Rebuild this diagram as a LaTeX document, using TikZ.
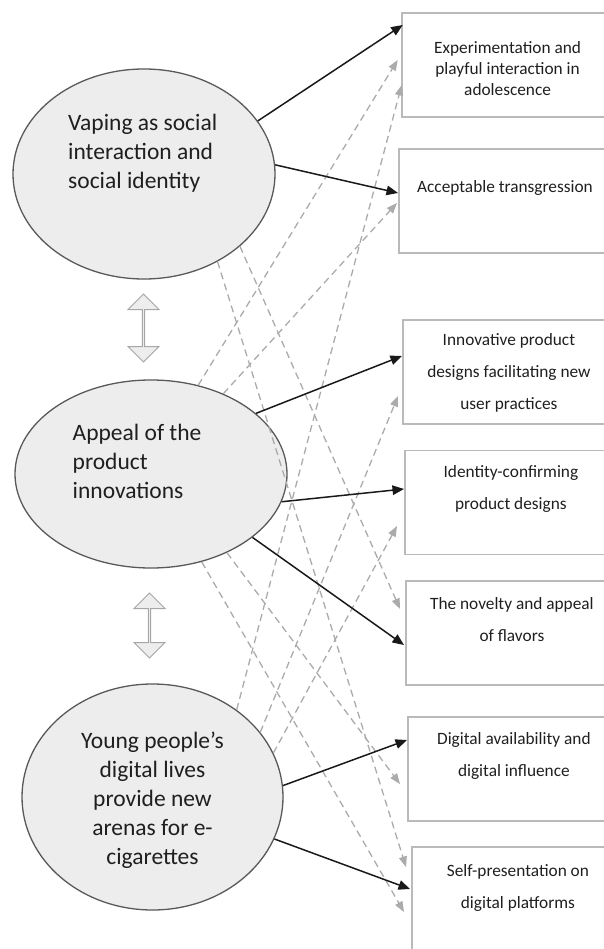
\documentclass[tikz,border=0pt]{standalone}
\usepackage{fontspec}
\setmainfont{Carlito}
\usetikzlibrary{positioning}
\usetikzlibrary{calc}
\usetikzlibrary{shapes.geometric,shapes.arrows}
\usetikzlibrary{arrows.meta}

\begin{document}
\begin{tikzpicture}[x=1pt,y=-1pt,
	theme/.style={ellipse,draw=black!65,line width=1.3pt,fill=black!7,inner sep=0pt},
	subtheme/.style={rectangle,draw=black!27,line width=1.8pt,minimum width=212pt,minimum height=104pt,anchor=west,inner sep=0pt},
	themetext/.style={font=\fontsize{23.5}{29}\selectfont,text=black!88,inner sep=0pt},
	subtext/.style={font=\fontsize{17.3}{32}\selectfont,text=black!88,align=center,inner sep=0pt},
	link/.style={line width=1.5pt,black!90,-{Triangle[length=11.5pt,width=9.5pt]}},
	crosslink/.style={line width=1.3pt,black!33,dash pattern=on 7pt off 4.5pt,-{Triangle[length=10.5pt,width=8pt]}},
	twoway/.style={double arrow,shape border rotate=90,draw=black!35,fill=black!7,line width=1pt,minimum width=31pt,double arrow head extend=7pt,double arrow tip angle=90,inner sep=0pt}]
	\useasboundingbox (0,0) rectangle (604,949);

	\node[theme,minimum width=262pt,minimum height=210pt] (vaping) at (144,174) {};
	\node[theme,minimum width=272pt,minimum height=188pt] (appeal) at (151,474) {};
	\node[theme,minimum width=261pt,minimum height=226pt] (digital) at (152.5,797) {};
	\node[themetext,anchor=west,align=left] (vaping text) at (68,153.5) {Vaping as social\\interaction and\\social identity};
	\node[themetext,anchor=west,align=left] (appeal text) at (72.5,461) {Appeal of the\\product\\innovations};
	\node[themetext,align=center] (digital text) at (152.5,800) {Young people’s\\digital lives\\provide new\\arenas for e-\\cigarettes};

	\node[twoway,minimum height=68pt] (updown a) at (143.5,328) {};
	\node[twoway,minimum height=65pt] (updown b) at (149.5,625.5) {};

	\node[subtheme] (experiment) at (400.7,65) {};
	\node[subtheme] (transgression) at (398,201) {};
	\node[subtheme] (designs) at (402,372) {};
	\node[subtheme] (identity) at (404,502.5) {};
	\node[subtheme] (flavors) at (405,633) {};
	\node[subtheme] (availability) at (407,769) {};
	\node[subtheme] (selfpres) at (411,899) {};

	\node[subtext,font=\fontsize{17.3}{21}\selectfont] at ($(experiment.center)+(0,4)$) {Experimentation and\\playful interaction in\\adolescence};
	\node[subtext] at ($(transgression.center)+(0,-13)$) {Acceptable transgression};
	\node[subtext] at ($(designs.center)+(0,0.5)$) {Innovative product\\designs facilitating new\\user practices};
	\node[subtext] at ($(identity.center)+(0,-13.5)$) {Identity-confirming\\product designs};
	\node[subtext] at ($(flavors.center)+(0,-13.5)$) {The novelty and appeal\\of flavors};
	\node[subtext] at ($(availability.center)+(0,-13.5)$) {Digital availability and\\digital influence};
	\node[subtext] at ($(selfpres.center)+(0,-11.5)$) {Self-presentation on\\digital platforms};

	\draw[crosslink] (appeal.62) -- ($(experiment.west)+(-3,-5)$);
	\draw[crosslink] (digital.46) -- ($(experiment.west)+(1,20)$);
	\draw[crosslink] (appeal.48) -- ($(transgression.west)+(-1,2)$);
	\draw[crosslink] (digital.31) -- ($(designs.west)+(-4,24)$);
	\draw[crosslink] (digital.20) -- ($(identity.west)+(-7,23.5)$);
	\draw[crosslink] (vaping.-37) -- ($(flavors.west)+(-5,-24)$);
	\draw[crosslink] (appeal.-46) -- ($(availability.west)+(-7,15)$);
	\draw[crosslink] (vaping.-50) -- ($(selfpres.west)+(-5,-32)$);
	\draw[crosslink] (appeal.-60) -- ($(selfpres.west)+(-7,13)$);

	\draw[link] (vaping.25) -- ($(experiment.west)+(2,-40)$);
	\draw[link] (vaping.4) -- ($(transgression.west)+(0,-8)$);
	\draw[link] (appeal.30) -- ($(designs.west)+(0,-16)$);
	\draw[link] (appeal.-12) -- ($(identity.west)+(0,-13.5)$);
	\draw[link] (appeal.-32) -- ($(flavors.west)+(-1,12)$);
	\draw[link] (digital.5) -- ($(availability.west)+(0,-29)$);
	\draw[link] (digital.-19) -- ($(selfpres.west)+(-1,-10)$);
\end{tikzpicture}
\end{document}
